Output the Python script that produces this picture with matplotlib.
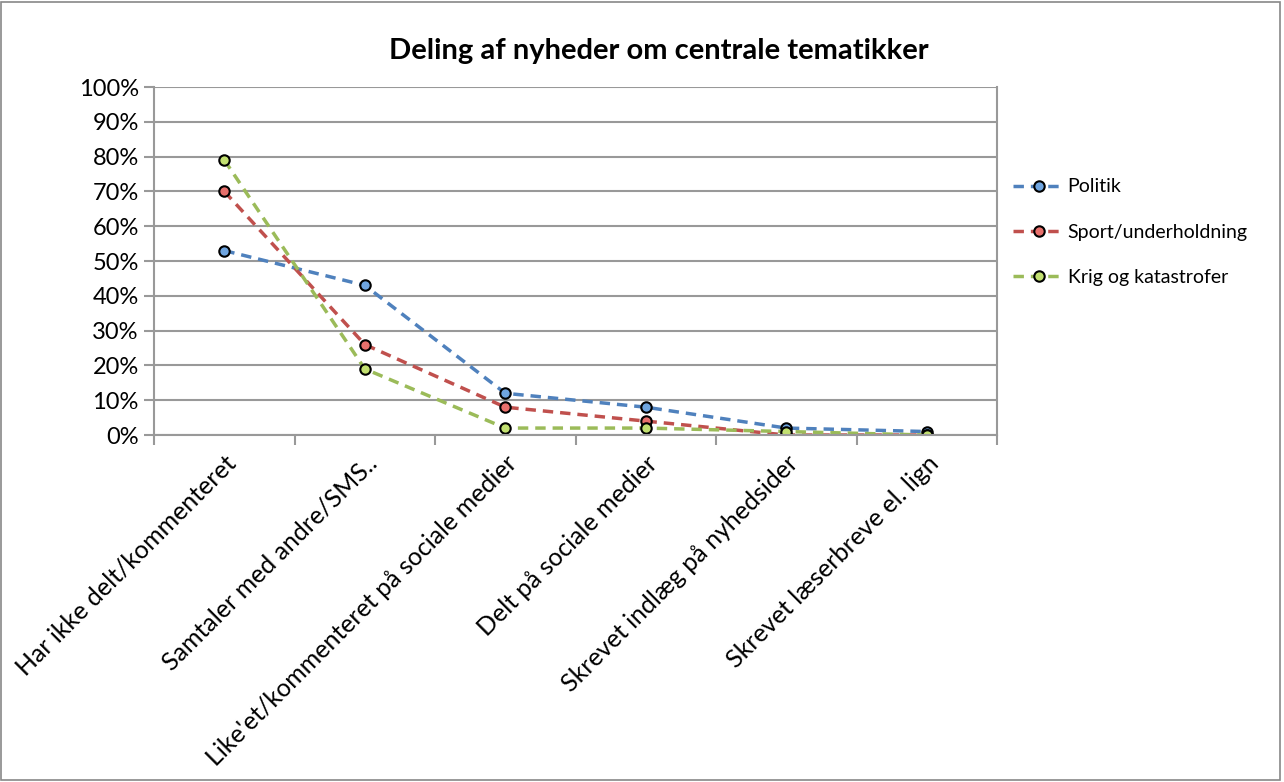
import matplotlib.pyplot as plt
from matplotlib.patches import Rectangle
from matplotlib.ticker import FixedLocator, PercentFormatter

plt.rcParams['font.family'] = ['Lato', 'DejaVu Sans']

categories = [
    'Har ikke delt/kommenteret',
    'Samtaler med andre/SMS..',
    "Like'et/kommenteret på sociale medier",
    'Delt på sociale medier',
    'Skrevet indlæg på nyhedsider',
    'Skrevet læserbreve el. lign',
]
politik = [53, 43, 12, 8, 2, 1]
sport = [70, 26, 8, 4, 0, 0]
krig = [79, 19, 2, 2, 1, 0]

series = [
    ('Politik', politik, '#4F81BD', '#6FA5E0'),
    ('Sport/underholdning', sport, '#C0504D', '#E8706C'),
    ('Krig og katastrofer', krig, '#9BBB59', '#C2E070'),
]

fig = plt.figure(figsize=(12.84, 7.82), dpi=100)
fig.patches.append(Rectangle((0.001, 0.002), 0.996, 0.995, transform=fig.transFigure,
                             fill=False, edgecolor='#888888', linewidth=1.2))
ax = fig.add_axes([0.12, 0.4437, 0.6565, 0.445])

x = range(len(categories))
for name, vals, color, face in series:
    ax.plot(x, vals, linestyle=(0, (3, 2)), color=color, linewidth=2.5,
            marker='o', markersize=7.5, markerfacecolor=face,
            markeredgecolor='black', markeredgewidth=1.5, label=name)

ax.set_xlim(-0.5, len(categories) - 0.5)
ax.set_ylim(0, 100)
ax.set_yticks(range(0, 101, 10))
ax.yaxis.set_major_formatter(PercentFormatter(decimals=0))
ax.yaxis.grid(True, color='#999999', linewidth=1.5)
ax.set_axisbelow(True)

ax.set_xticks(list(x))
ax.set_xticklabels(categories, rotation=45, ha='right', rotation_mode='anchor', fontsize=18)
ax.tick_params(axis='x', which='major', length=0, pad=12)
ax.xaxis.set_minor_locator(FixedLocator([i - 0.5 for i in range(len(categories) + 1)]))
ax.tick_params(axis='x', which='minor', length=7, color='#999999', width=1.5)
ax.tick_params(axis='y', length=7, color='#999999', width=1.5, labelsize=17, pad=4)

for side in ['left', 'bottom', 'right', 'top']:
    ax.spines[side].set_color('#999999')
    ax.spines[side].set_linewidth(1.5)
ax.spines['top'].set_visible(False)

fig.text(0.513, 0.935, 'Deling af nyheder om centrale tematikker', ha='center', va='center',
         fontsize=21, fontweight='bold')

ax.legend(loc='upper left', bbox_to_anchor=(1.01, 0.76), frameon=False, fontsize=14,
          labelspacing=1.45, handlelength=2.6, handletextpad=0.2, borderaxespad=0)

fig.savefig('out.png', dpi=100)
